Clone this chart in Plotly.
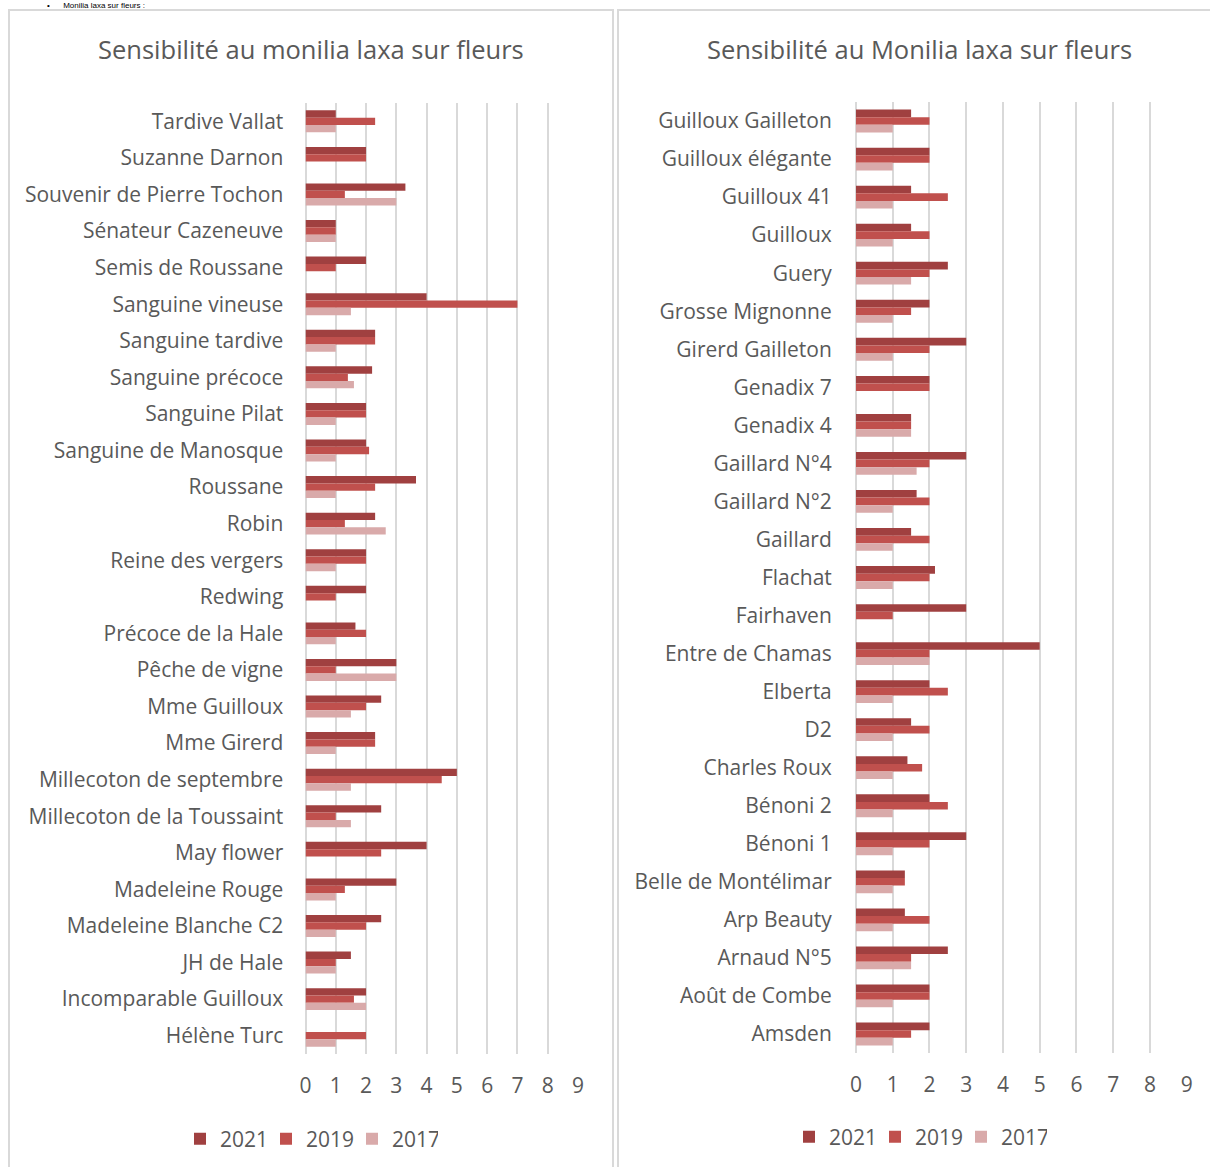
import plotly.graph_objects as go

# ---------------- data ----------------
left_categories = [
    "Tardive Vallat", "Suzanne Darnon", "Souvenir de Pierre Tochon", "Sénateur Cazeneuve",
    "Semis de Roussane", "Sanguine vineuse", "Sanguine tardive", "Sanguine précoce",
    "Sanguine Pilat", "Sanguine de Manosque", "Roussane", "Robin", "Reine des vergers",
    "Redwing", "Précoce de la Hale", "Pêche de vigne", "Mme Guilloux", "Mme Girerd",
    "Millecoton de septembre", "Millecoton de la Toussaint", "May flower", "Madeleine Rouge",
    "Madeleine Blanche C2", "JH de Hale", "Incomparable Guilloux", "Hélène Turc",
]
left_2021 = [1, 2, 3.3, 1, 2, 4, 2.3, 2.2, 2, 2, 3.65, 2.3, 2, 2, 1.65, 3, 2.5, 2.3,
             5, 2.5, 4, 3, 2.5, 1.5, 2, None]
left_2019 = [2.3, 2, 1.3, 1, 1, 7, 2.3, 1.4, 2, 2.1, 2.3, 1.3, 2, 1, 2, 1, 2, 2.3,
             4.5, 1, 2.5, 1.3, 2, 1, 1.6, 2]
left_2017 = [1, None, 3, 1, None, 1.5, 1, 1.6, 1, 1, 1, 2.65, 1, None, 1, 3, 1.5, 1,
             1.5, 1.5, None, 1, 1, 1, 2, 1]

right_categories = [
    "Guilloux Gailleton", "Guilloux élégante", "Guilloux 41", "Guilloux", "Guery",
    "Grosse Mignonne", "Girerd Gailleton", "Genadix 7", "Genadix 4", "Gaillard N°4",
    "Gaillard N°2", "Gaillard", "Flachat", "Fairhaven", "Entre de Chamas", "Elberta", "D2",
    "Charles Roux", "Bénoni 2", "Bénoni 1", "Belle de Montélimar", "Arp Beauty",
    "Arnaud N°5", "Août de Combe", "Amsden",
]
right_2021 = [1.5, 2, 1.5, 1.5, 2.5, 2, 3, 2, 1.5, 3, 1.65, 1.5, 2.15, 3, 5, 2, 1.5,
              1.4, 2, 3, 1.33, 1.33, 2.5, 2, 2]
right_2019 = [2, 2, 2.5, 2, 2, 1.5, 2, 2, 1.5, 2, 2, 2, 2, 1, 2, 2.5, 2,
              1.8, 2.5, 2, 1.33, 2, 1.5, 2, 1.5]
right_2017 = [1, 1, 1, 1, 1.5, 1, 1, None, 1.5, 1.65, 1, 1, 1, None, 2, 1, 1,
              1, 1, 1, 1, 1, 1.5, 1, 1]

years = ["2021", "2019", "2017"]
colors = ["#A04040", "#C0504D", "#D9AAAA"]

title_left = "Sensibilité au monilia laxa sur fleurs"
title_right = "Sensibilité au Monilia laxa sur fleurs"
heading = "•      Monilia laxa sur fleurs :"
x_ticks = list(range(0, 10))

# ---------------- figure ----------------
W, H = 1210, 1167
FONT = "Open Sans"
GREY = "#595959"
GRID = "#D9D9D9"

fig = go.Figure()

for yr, col, vals in zip(years, colors, [left_2021, left_2019, left_2017]):
    fig.add_trace(go.Bar(
        y=left_categories, x=vals, name=yr, orientation="h",
        marker=dict(color=col, line=dict(width=0)),
        xaxis="x", yaxis="y", legend="legend",
    ))
for yr, col, vals in zip(years, colors, [right_2021, right_2019, right_2017]):
    fig.add_trace(go.Bar(
        y=right_categories, x=vals, name=yr, orientation="h",
        marker=dict(color=col, line=dict(width=0)),
        xaxis="x2", yaxis="y2", legend="legend2",
    ))

def px_x(p):
    return p / W

def px_y(p):
    return 1 - p / H

xaxis_common = dict(
    range=[0, 9.001], tickvals=x_ticks, showgrid=True, gridcolor=GRID, gridwidth=1.5,
    zeroline=True, zerolinecolor=GRID, zerolinewidth=1.5, showline=False,
    ticks="outside", ticklen=0, ticklabelstandoff=13, automargin=False,
    tickfont=dict(family=FONT, size=21, color=GREY), fixedrange=True,
)
yaxis_common = dict(
    type="category", autorange="reversed", showgrid=False, zeroline=False,
    showline=False, ticks="outside", ticklen=0, automargin=False,
    tickfont=dict(family=FONT, size=21, color=GREY), fixedrange=True,
)
legend_common = dict(
    orientation="h", xanchor="left", yanchor="middle",
    font=dict(family=FONT, size=21, color=GREY), itemwidth=30,
    entrywidth=41, entrywidthmode="pixels", bgcolor="rgba(0,0,0,0)",
)

fig.update_layout(
    width=W, height=H,
    margin=dict(l=0, r=0, t=0, b=0, pad=0, autoexpand=False),
    paper_bgcolor="white", plot_bgcolor="white",
    barmode="group", bargap=0.4, bargroupgap=0,
    xaxis=dict(domain=[px_x(305.5), px_x(578)], anchor="y", **xaxis_common),
    yaxis=dict(domain=[px_y(1054), px_y(103)], anchor="x", ticklabelstandoff=17,
               **yaxis_common),
    xaxis2=dict(domain=[px_x(856), px_x(1186.7)], anchor="y2", **xaxis_common),
    yaxis2=dict(domain=[px_y(1053), px_y(102)], anchor="x2", ticklabelstandoff=19,
                **yaxis_common),
    legend=dict(x=px_x(180), y=px_y(1139), **legend_common),
    legend2=dict(x=px_x(789), y=px_y(1137), **legend_common),
    showlegend=True,
)

# panel borders
fig.add_shape(type="rect", xref="paper", yref="paper",
              x0=px_x(9), x1=px_x(613), y0=px_y(1200), y1=px_y(10),
              line=dict(color=GRID, width=2), fillcolor="rgba(0,0,0,0)", layer="below")
fig.add_shape(type="rect", xref="paper", yref="paper",
              x0=px_x(618), x1=px_x(1230), y0=px_y(1200), y1=px_y(10),
              line=dict(color=GRID, width=2), fillcolor="rgba(0,0,0,0)", layer="below")

# titles
fig.add_annotation(text=title_left, xref="paper", yref="paper", x=px_x(310.5), y=px_y(49),
                   xanchor="center", yanchor="middle", showarrow=False,
                   font=dict(family=FONT, size=25.5, color=GREY))
fig.add_annotation(text=title_right, xref="paper", yref="paper", x=px_x(919.5), y=px_y(49),
                   xanchor="center", yanchor="middle", showarrow=False,
                   font=dict(family=FONT, size=25.5, color=GREY))

# heading of the page above (kept small so it stays fully visible)
fig.add_annotation(text=heading, xref="paper", yref="paper",
                   x=px_x(46), y=px_y(0), xanchor="left", yanchor="top",
                   showarrow=False, font=dict(family="Liberation Sans", size=8, color="black"),
                   borderpad=0)

fig.write_html("out.html", config={"displayModeBar": False},
               post_script="document.body.style.margin='0';"
                           "document.body.style.overflow='hidden';")
